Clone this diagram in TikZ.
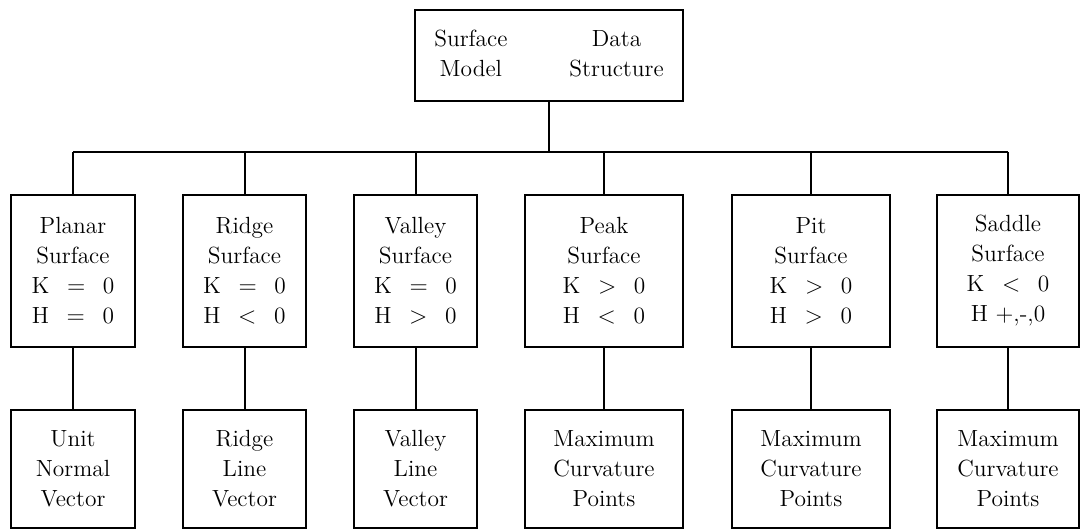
\documentclass[tikz,border=0pt]{standalone}
\newcommand{\gap}{\hspace{0.75em}}
\begin{document}
\begin{tikzpicture}[
  x=0.5pt, y=-0.5pt,
  every node/.style={font=\fontsize{11.7pt}{15pt}\selectfont},
  box/.style={draw, line width=1pt, align=center, inner sep=0pt},
  kind/.style={box, minimum height=76pt},
  repr/.style={box, minimum height=59pt},
  link/.style={line width=1pt}]
  \useasboundingbox (0,0) rectangle (1082,529);
  % root
  \node[box, minimum width=134pt, minimum height=45.5pt] (root) at (549,55.5)
    {\begin{tabular}{@{}c@{\hspace{31pt}}c@{}}Surface & Data\\ Model & Structure\end{tabular}};
  % surface types
  \node[kind, minimum width=62pt]   (planar) at (73,271)   {Planar\\Surface\\K\gap$=$\gap0\\H\gap$=$\gap0};
  \node[kind, minimum width=61.5pt] (ridge)  at (244.5,271) {Ridge\\Surface\\K\gap$=$\gap0\\H\gap$<$\gap0};
  \node[kind, minimum width=61.5pt] (valley) at (415.5,271) {Valley\\Surface\\K\gap$=$\gap0\\H\gap$>$\gap0};
  \node[kind, minimum width=79pt]   (peak)   at (604,271)   {Peak\\Surface\\K\gap$>$\gap0\\H\gap$<$\gap0};
  \node[kind, minimum width=79pt]   (pit)    at (811,271)   {Pit\\Surface\\K\gap$>$\gap0\\H\gap$>$\gap0};
  \node[kind, minimum width=71pt]   (saddle) at (1008,271)  {Saddle\\Surface\\K\gap$<$\gap0\\H\ +,-,0};
  % data structures
  \node[repr, minimum width=62pt]   (unit)   at (73,469)    {Unit\\Normal\\Vector};
  \node[repr, minimum width=61.5pt] (rline)  at (244.5,469) {Ridge\\Line\\Vector};
  \node[repr, minimum width=61.5pt] (vline)  at (415.5,469) {Valley\\Line\\Vector};
  \node[repr, minimum width=79pt]   (peakpt) at (604,469)   {Maximum\\Curvature\\Points};
  \node[repr, minimum width=79pt]   (pitpt)  at (811,469)   {Maximum\\Curvature\\Points};
  \node[repr, minimum width=71pt]   (sadpt)  at (1008,469)  {Maximum\\Curvature\\Points};
  % connectors
  \coordinate (bus) at (0,152);
  \draw[link] (root) -- (root |- bus);
  \draw[link] (planar.north |- bus) -- (saddle.north |- bus);
  \foreach \n in {planar,ridge,valley,peak,pit,saddle}
    \draw[link] (\n.north) -- (\n.north |- bus);
  \foreach \a/\b in {planar/unit,ridge/rline,valley/vline,peak/peakpt,pit/pitpt,saddle/sadpt}
    \draw[link] (\a) -- (\b);
\end{tikzpicture}
\end{document}
